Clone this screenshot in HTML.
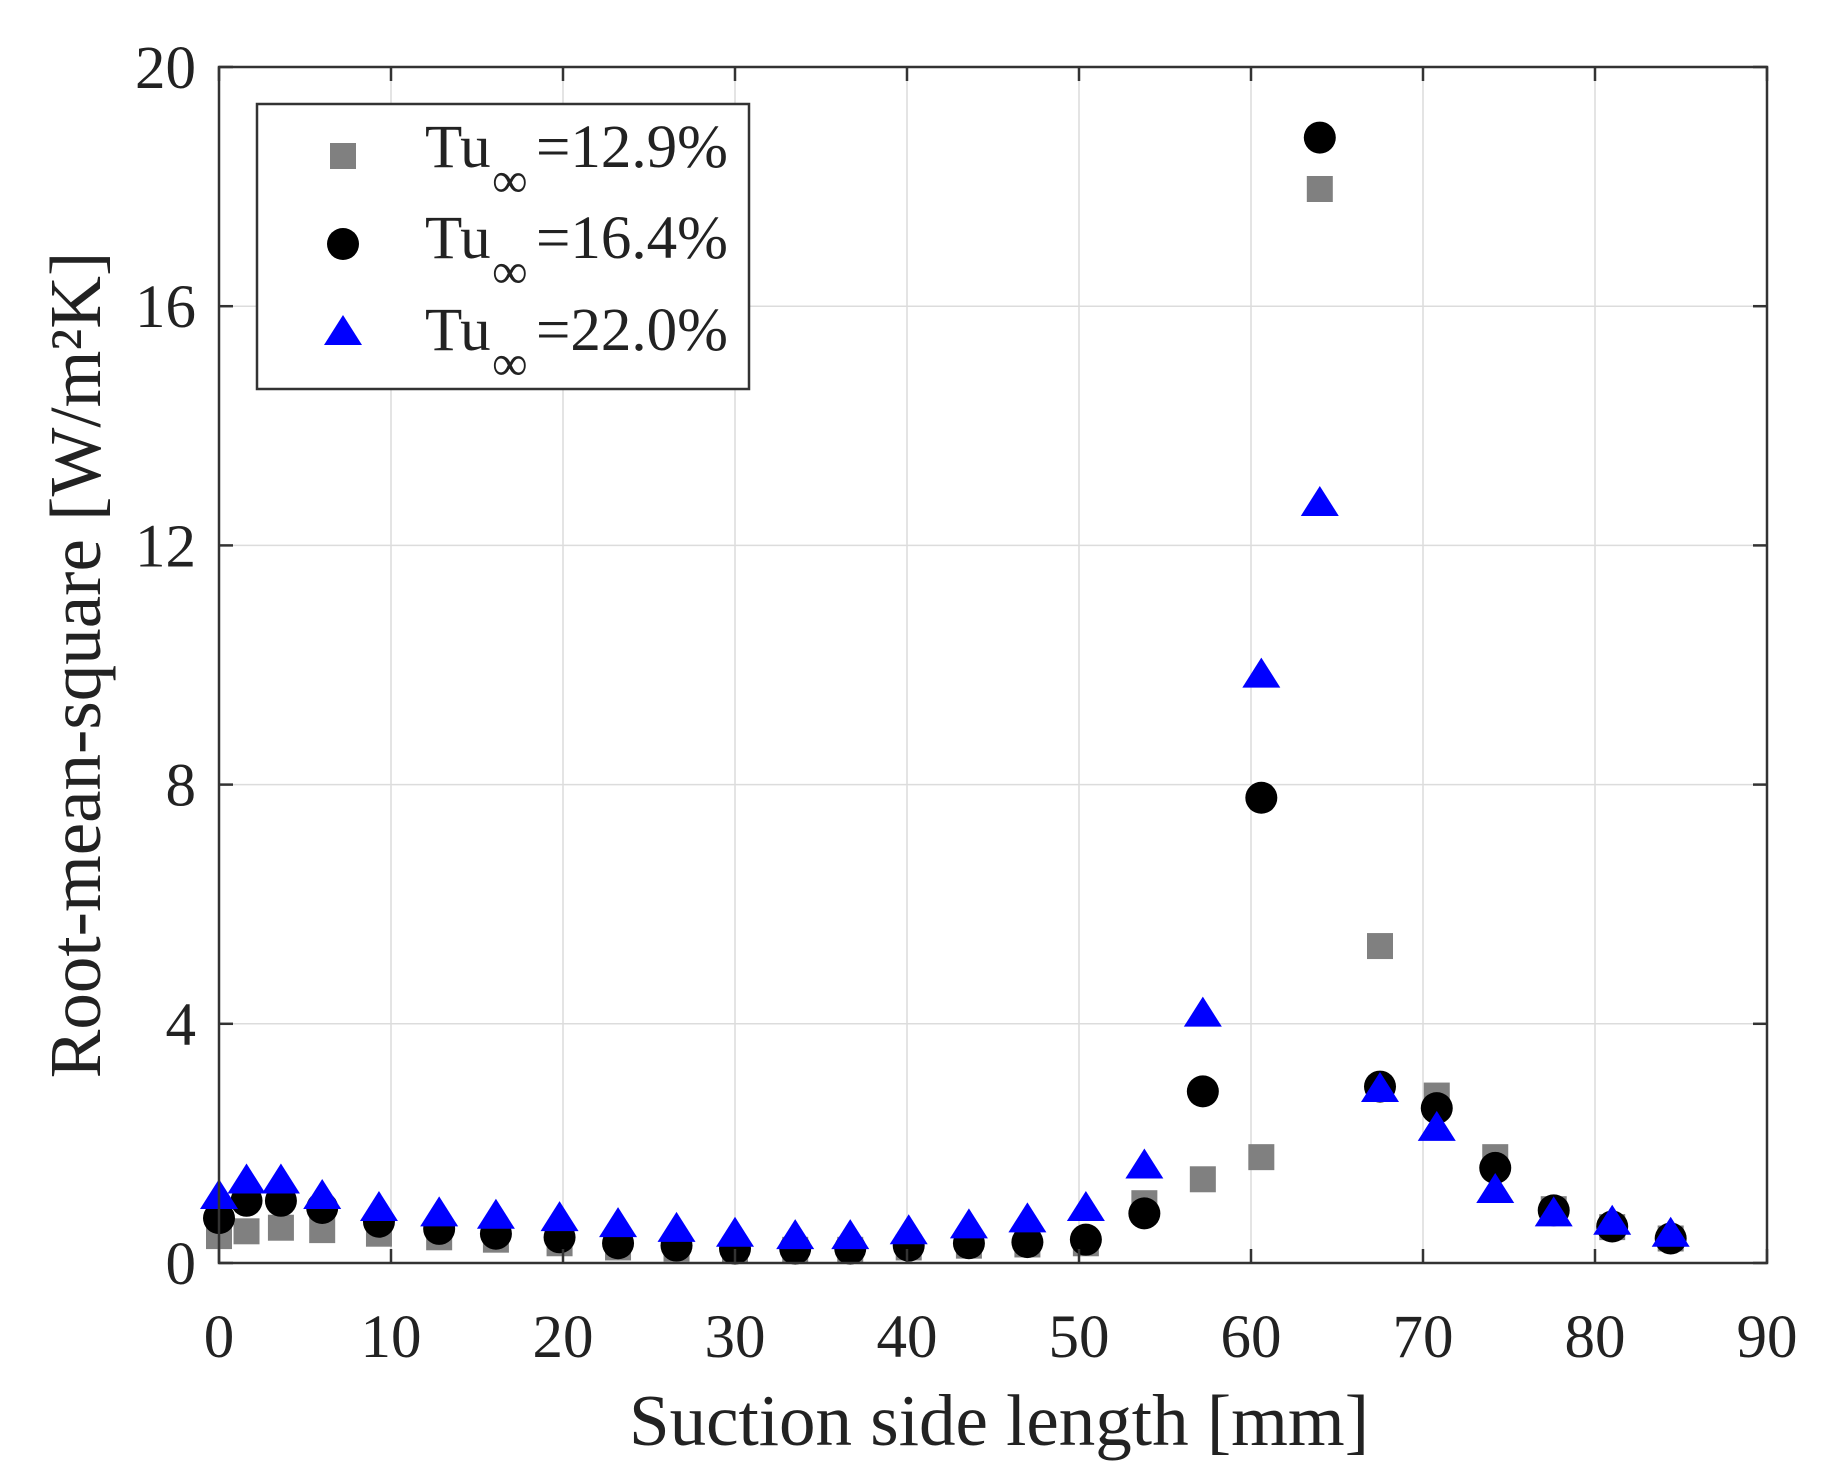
<!DOCTYPE html>
<html><head><meta charset="utf-8"><style>
html,body{margin:0;padding:0;background:#fff;}
svg{display:block;font-family:"Liberation Serif",serif;}
</style></head><body>
<svg id="chart" width="1844" height="1484" viewBox="0 0 1844 1484" xmlns="http://www.w3.org/2000/svg">
<g id="grid"></g>
<g id="marks"></g>
<rect x="219" y="67" width="1548" height="1196" fill="none" stroke="#333" stroke-width="2.5"/>
<g id="ticks"></g>
<text x="999" y="1445" font-size="73" text-anchor="middle" fill="#222">Suction side length [mm]</text>
<text transform="translate(100,665) rotate(-90)" font-size="73" text-anchor="middle" fill="#222">Root-mean-square [W/m²K]</text>
<g>
<rect x="257" y="104" width="492" height="285" fill="#fff" stroke="#333" stroke-width="2.5"/>
<rect x="330" y="143" width="26" height="26" fill="#808080"/>
<circle cx="343" cy="244" r="16" fill="#000"/>
<polygon points="343,315 324,345 362,345" fill="#0000ff"/>
<g font-size="61" fill="#222"><text x="425" y="167">Tu</text><text x="492" y="197" font-size="50">∞</text><text x="536" y="167">=12.9%</text></g>
<g font-size="61" fill="#222"><text x="425" y="258">Tu</text><text x="492" y="288" font-size="50">∞</text><text x="536" y="258">=16.4%</text></g>
<g font-size="61" fill="#222"><text x="425" y="350">Tu</text><text x="492" y="380" font-size="50">∞</text><text x="536" y="350">=22.0%</text></g>
</g>
</svg>
<script>
const xPos = [0,1.6,3.6,6.0,9.3,12.8,16.1,19.8,23.2,26.6,30.0,33.5,36.7,40.1,43.6,47.0,50.4,53.8,57.2,60.6,64.0,67.5,70.8,74.2,77.6,81.0,84.4];
const tu129 = [0.45,0.53,0.59,0.55,0.49,0.43,0.39,0.33,0.26,0.24,0.22,0.22,0.22,0.26,0.29,0.31,0.33,1.0,1.4,1.77,17.96,5.3,2.8,1.77,0.9,0.6,0.41];
const tu164 = [0.75,1.04,1.04,0.92,0.69,0.57,0.49,0.43,0.33,0.29,0.24,0.24,0.24,0.29,0.33,0.35,0.39,0.83,2.87,7.78,18.82,2.95,2.59,1.59,0.88,0.61,0.41];
const tu220 = [1.12,1.38,1.38,1.12,0.92,0.83,0.79,0.75,0.65,0.57,0.49,0.45,0.45,0.53,0.63,0.73,0.92,1.63,4.17,9.84,12.71,2.91,2.26,1.22,0.83,0.69,0.49];
const xTicks = [0,10,20,30,40,50,60,70,80,90];
const yTicks = [0,4,8,12,16,20];

const NS = "http://www.w3.org/2000/svg";
const X0=219, X1=1767, Y0=1263, Y1=67;
function sx(v){return X0 + (v-0)/(90-0)*(X1-X0);}
function sy(v){return Y0 - (v-0)/(20-0)*(Y0-Y1);}
function mk(tag, attrs, parent){const e=document.createElementNS(NS,tag);for(const k in attrs)e.setAttribute(k,attrs[k]);parent.appendChild(e);return e;}
const grid=document.getElementById('grid'), ticks=document.getElementById('ticks'), marks=document.getElementById('marks');

xTicks.forEach(t=>{
  const x=sx(t);
  const g=mk('line',{x1:x,x2:x,y1:Y1,y2:Y0,stroke:'#dcdcdc','stroke-width':1.5},grid);
  
  
  const a=mk('line',{x1:x,x2:x,y1:Y0,y2:Y0-14,stroke:'#333','stroke-width':2.5},ticks);
  
  
  const b=mk('line',{x1:x,x2:x,y1:Y1,y2:Y1+14,stroke:'#333','stroke-width':2.5},ticks);
  
  
  const l=mk('text',{x:x,y:1357,'font-size':61,'text-anchor':'middle',fill:'#222'},ticks);
  l.textContent=t;
  
  
});
yTicks.forEach(t=>{
  const y=sy(t);
  const g=mk('line',{x1:X0,x2:X1,y1:y,y2:y,stroke:'#dcdcdc','stroke-width':1.5},grid);
  
  
  const a=mk('line',{x1:X0,x2:X0+14,y1:y,y2:y,stroke:'#333','stroke-width':2.5},ticks);
  
  
  const b=mk('line',{x1:X1,x2:X1-14,y1:y,y2:y,stroke:'#333','stroke-width':2.5},ticks);
  
  
  const l=mk('text',{x:196,y:y+21,'font-size':61,'text-anchor':'end',fill:'#222'},ticks);
  l.textContent=t;
  
  
});
xPos.forEach((xv,i)=>{
  const x=sx(xv), y=sy(tu129[i]);
  const r=mk('rect',{x:x-13,y:y-13,width:26,height:26,fill:'#808080'},marks);
  
  
});
xPos.forEach((xv,i)=>{
  const c=mk('circle',{cx:sx(xv),cy:sy(tu164[i]),r:16,fill:'#000'},marks);
  
  
});
xPos.forEach((xv,i)=>{
  const x=sx(xv), y=sy(tu220[i]);
  const p=mk('polygon',{points:`${x},${y-17} ${x-19},${y+13} ${x+19},${y+13}`,fill:'#0000ff'},marks);
  
  
});
</script>
</body></html>
